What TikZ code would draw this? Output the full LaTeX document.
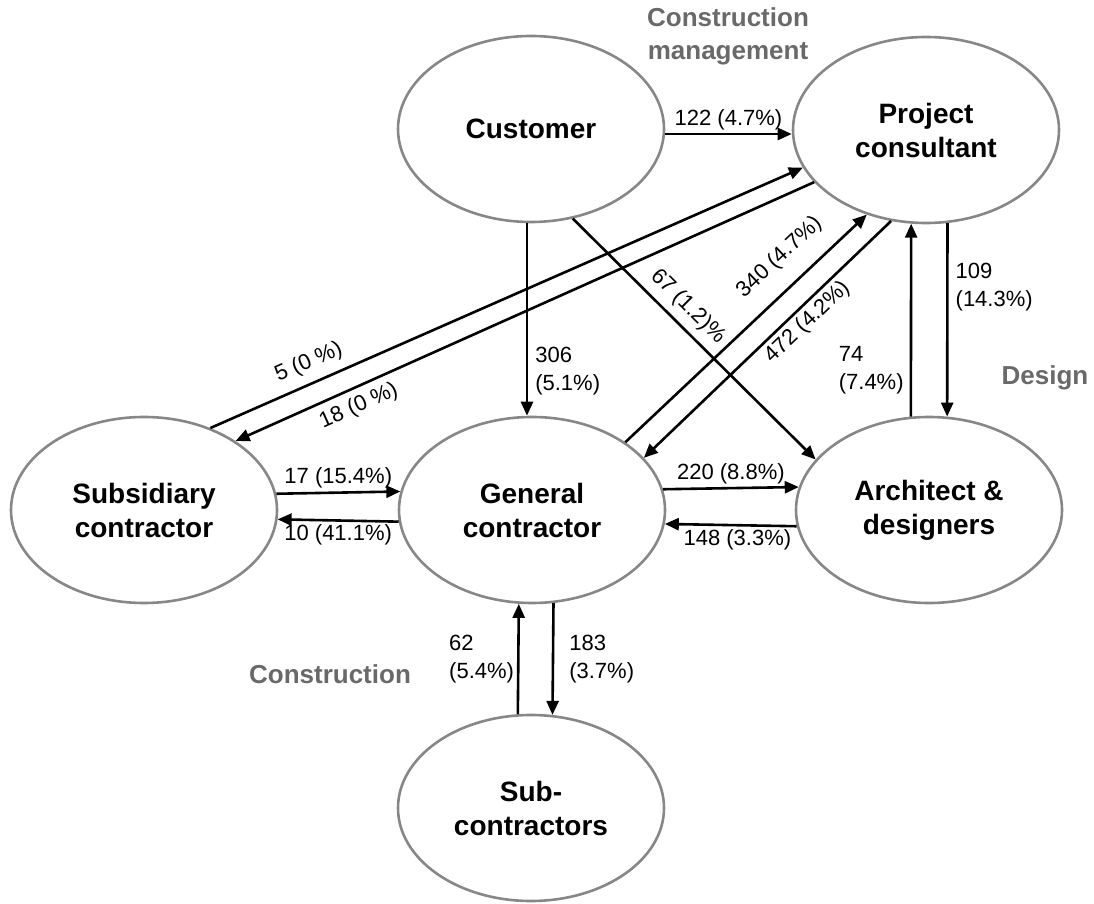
\documentclass[tikz,border=0pt]{standalone}
\usepackage{fontspec}
\setmainfont{Liberation Sans}
\usetikzlibrary{arrows.meta,shapes.geometric}
\definecolor{ellgray}{RGB}{135,135,135}
\definecolor{txtgray}{RGB}{105,105,105}
\begin{document}
\begin{tikzpicture}[x=1pt,y=1pt,
  ent/.style={ellipse, draw=ellgray, line width=2.6pt, minimum width=266pt, minimum height=186pt, inner sep=0pt, font=\fontsize{28}{34}\selectfont\bfseries, align=center},
  flow/.style={line width=2.6pt, -{Triangle[length=14pt,width=12pt]}},
  lab/.style={font=\fontsize{22}{28}\selectfont, inner sep=3pt},
  phase/.style={font=\fontsize{26}{33}\selectfont\bfseries, text=txtgray, align=center}]
\useasboundingbox (0,0) rectangle (1094,903);

\node[ent] (cust) at (531,774) {Customer};
\node[ent] (pc) at (926,773) {Project\\consultant};
\node[ent] (subs) at (144,393) {Subsidiary\\contractor};
\node[ent] (gc) at (532,393) {General\\contractor};
\node[ent] (arch) at (929,393) {Architect \&\\designers};
\node[ent] (subc) at (531,95) {Sub-\\contractors};

\node[phase] (cm) at (728,867) {Construction\\management};
\node[phase] (des) at (1045,525) {Design};
\node[phase] (con) at (330,229) {Construction};

\draw[flow] ([yshift=-5pt]cust.east) -- node[lab,above]{122 (4.7\%)} ([yshift=-4pt]pc.west);
\draw[flow] ([xshift=-4pt]cust.south) -- node[lab,right,align=left,pos=0.77,xshift=4pt]{306\\(5.1\%)} ([xshift=-5pt]gc.north);
\draw[flow] (cust.-65.6) -- node[lab,above=4pt,sloped,pos=0.42]{67 (1.2)\%} (arch.156.9);

\draw[flow] (subs.51.25) -- node[lab,above=6pt,sloped,pos=0.18]{5 (0 \%)} (pc.197.6);
\draw[flow] (pc.205.95) -- node[lab,below=4pt,sloped,pos=0.8]{18 (0 \%)} (subs.37.4);
\draw[flow] (gc.36.2) -- node[lab,above=14pt,sloped,pos=0.72]{340 (4.7\%)} (pc.-125.04);
\draw[flow] (pc.-111.9) -- node[lab,below=1pt,sloped,pos=0.38]{472 (4.2\%)} (gc.25.1);

\draw[flow] (pc.-77.66) -- node[lab,right,align=left,pos=0.33,xshift=4pt]{109\\(14.3\%)} (arch.79.55);
\draw[flow] (arch.101.66) -- node[lab,left,align=left,pos=0.24,xshift=-3pt]{74\\(7.4\%)} (pc.-99.9);

\draw[flow] (subs.7.85) -- node[lab,above]{17 (15.4\%)} (gc.172.15);
\draw[flow] (gc.-175.67) -- node[lab,below]{10 (41.1\%)} (subs.-4.33);
\draw[flow] (gc.9.66) -- node[lab,above]{220 (8.8\%)} (arch.170.34);
\draw[flow] (arch.-173.92) -- node[lab,below,pos=0.45]{148 (3.3\%)} (gc.-6.08);

\draw[flow] (subc.98.0) -- node[lab,left,align=left]{62\\(5.4\%)} (gc.-98.6);
\draw[flow] (gc.-77.72) -- node[lab,right,align=left,xshift=12pt]{183\\(3.7\%)} (subc.77.11);
\end{tikzpicture}
\end{document}
